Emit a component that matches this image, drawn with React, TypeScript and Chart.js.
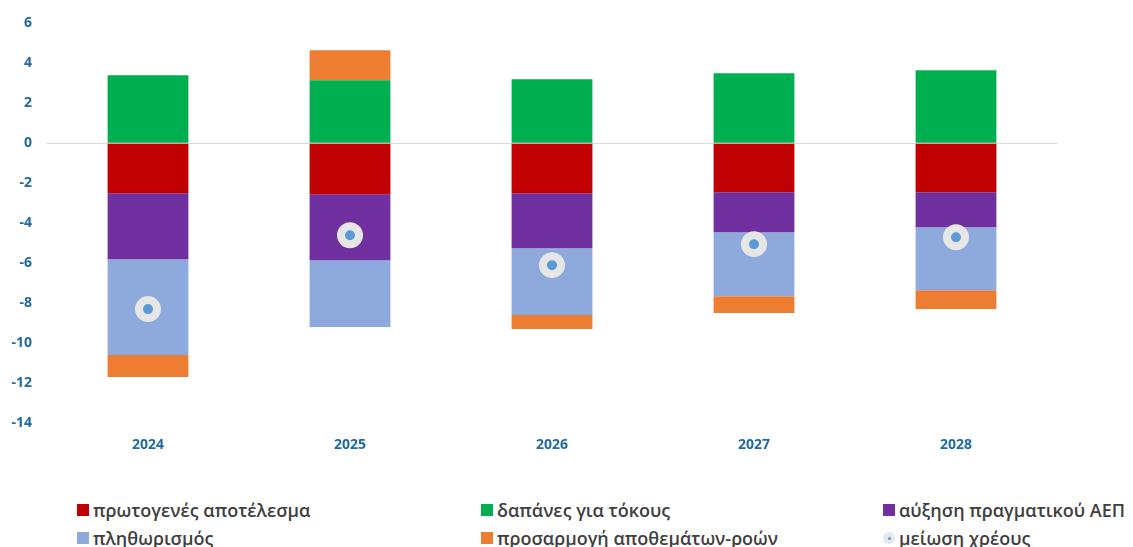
import React, { useEffect, useRef } from "react";
import { Chart, registerables } from "chart.js";

Chart.register(...registerables);

const years = ["2024", "2025", "2026", "2027", "2028"];
const primaryBalance = [-2.5, -2.55, -2.5, -2.45, -2.45];
const interestCosts = [3.4, 3.15, 3.2, 3.5, 3.65];
const realGdpGrowth = [-3.3, -3.3, -2.75, -2.0, -1.75];
const inflation = [-4.8, -3.35, -3.35, -3.2, -3.15];
const stockFlow = [-1.1, 1.5, -0.7, -0.85, -0.95];
const debtReduction = [-8.3, -4.6, -6.1, -5.05, -4.7];
const yTicks = [6, 4, 2, 0, -2, -4, -6, -8, -10, -12, -14];

const labels = {
  primary: "πρωτογενές αποτέλεσμα",
  interest: "δαπάνες για τόκους",
  gdp: "αύξηση πραγματικού ΑΕΠ",
  infl: "πληθωρισμός",
  sfa: "προσαρμογή αποθεμάτων-ροών",
  debt: "μείωση χρέους",
};

const COLORS = {
  primary: "#C00000",
  interest: "#00B050",
  gdp: "#7030A0",
  infl: "#8EA9DB",
  sfa: "#ED7D31",
  debtFill: "#5B9BD5",
  debtRing: "#E7E6E6",
};

const TICK_COLOR = "#1F6AA5";
const FONT = "'Open Sans', 'DejaVu Sans', sans-serif";

export default function App() {
  const ref = useRef<HTMLCanvasElement | null>(null);

  useEffect(() => {
    if (!ref.current) return;
    const bar = (label: string, data: number[], color: string) => ({
      type: "bar" as const,
      label,
      data,
      backgroundColor: color,
      borderWidth: 0,
      stack: "s",
      order: 1,
      categoryPercentage: 0.8,
      barPercentage: 0.5,
    });
    const chart = new Chart(ref.current, {
      type: "bar",
      data: {
        labels: years,
        datasets: [
          bar(labels.primary, primaryBalance, COLORS.primary),
          bar(labels.interest, interestCosts, COLORS.interest),
          bar(labels.gdp, realGdpGrowth, COLORS.gdp),
          bar(labels.infl, inflation, COLORS.infl),
          bar(labels.sfa, stockFlow, COLORS.sfa),
          {
            type: "line" as const,
            label: labels.debt,
            data: debtReduction,
            showLine: false,
            stack: "debt",
            order: 0,
            pointRadius: 9,
            pointHoverRadius: 9,
            pointBorderWidth: 8,
            pointBackgroundColor: COLORS.debtFill,
            pointBorderColor: COLORS.debtRing,
          } as any,
        ],
      },
      options: {
        responsive: false,
        animation: false,
        layout: { padding: { top: 23, right: 76, left: 0, bottom: 0 } },
        plugins: {
          legend: { display: false },
          tooltip: { enabled: false },
        },
        scales: {
          x: {
            stacked: true,
            grid: { display: false, drawTicks: false },
            border: { display: false },
            ticks: {
              color: TICK_COLOR,
              font: { family: FONT, size: 14, weight: "bold" },
              padding: 14,
            },
            afterFit: (axis: any) => {
              axis.height = 47;
            },
          },
          y: {
            stacked: true,
            min: -14,
            max: 6,
            afterBuildTicks: (axis: any) => {
              axis.ticks = yTicks.map((v) => ({ value: v }));
            },
            grid: {
              drawTicks: false,
              color: (ctx: any) =>
                ctx.tick && ctx.tick.value === 0 ? "#D9D9D9" : "rgba(0,0,0,0)",
              lineWidth: 1,
            },
            border: { display: false },
            ticks: {
              color: TICK_COLOR,
              font: { family: FONT, size: 14, weight: "bold" },
              padding: 15,
            },
            afterFit: (axis: any) => {
              axis.width = 47;
            },
          },
        },
      },
    });
    return () => chart.destroy();
  }, []);

  const item = (x: number, y: number, text: string, swatch: React.ReactNode) => (
    <div
      key={text}
      style={{
        position: "absolute",
        left: x,
        top: y - 13,
        height: 26,
        display: "flex",
        alignItems: "center",
        whiteSpace: "nowrap",
        fontFamily: FONT,
        fontSize: 18,
        fontWeight: 600,
        color: "#404040",
      }}
    >
      {swatch}
      <span style={{ marginLeft: 4 }}>{text}</span>
    </div>
  );
  const sq = (c: string) => (
    <span style={{ display: "inline-block", width: 12, height: 12, background: c, flex: "none" }} />
  );
  const dot = (
    <span
      style={{
        display: "inline-block",
        width: 12,
        height: 12,
        borderRadius: "50%",
        background: "#E3E8EE",
        position: "relative",
        flex: "none",
      }}
    >
      <span
        style={{
          position: "absolute",
          left: 4.5,
          top: 4.5,
          width: 3,
          height: 3,
          borderRadius: "50%",
          background: COLORS.debtFill,
        }}
      />
    </span>
  );

  return (
    <div
      style={{
        position: "absolute",
        left: 0,
        top: 0,
        width: 1133,
        height: 547,
        background: "#fff",
        overflow: "hidden",
      }}
    >
      <canvas ref={ref} width={1133} height={470} style={{ display: "block" }} />
      {item(77, 510, labels.primary, sq(COLORS.primary))}
      {item(481, 510, labels.interest, sq(COLORS.interest))}
      {item(883, 510, labels.gdp, sq(COLORS.gdp))}
      {item(77, 538, labels.infl, sq(COLORS.infl))}
      {item(481, 538, labels.sfa, sq(COLORS.sfa))}
      {item(883, 538, labels.debt, dot)}
    </div>
  );
}
